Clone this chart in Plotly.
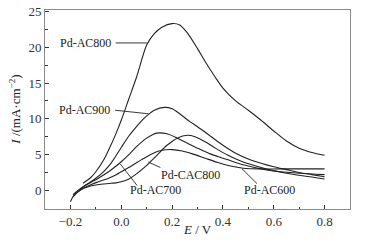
import plotly.graph_objects as go

# ---- data ----
E_ac800 = [-0.15, -0.12, -0.1, -0.07, -0.05, -0.02, 0.0, 0.03, 0.06, 0.1, 0.13, 0.16, 0.2, 0.23, 0.26,
           0.3, 0.33, 0.37, 0.4, 0.45, 0.5, 0.55, 0.6, 0.65, 0.7, 0.75, 0.8]
I_ac800 = [1.0, 1.8, 2.6, 4.2, 5.6, 8.0, 9.8, 12.8, 15.8, 20.3, 21.9, 22.8, 23.3, 23.1, 22.0,
           19.8, 18.0, 15.8, 14.3, 12.5, 11.2, 9.8, 8.3, 6.9, 5.9, 5.3, 4.9]

E_ac900 = [-0.17, -0.15, -0.12, -0.1, -0.07, -0.04, 0.0, 0.03, 0.06, 0.08, 0.1, 0.13, 0.17, 0.2, 0.23,
           0.27, 0.3, 0.35, 0.4, 0.45, 0.5, 0.55, 0.6, 0.65, 0.7, 0.75, 0.8]
I_ac900 = [-0.2, 0.5, 1.2, 1.7, 2.6, 3.8, 6.0, 7.6, 8.9, 9.7, 10.4, 11.2, 11.6, 11.4, 10.7,
           9.6, 8.9, 7.6, 6.3, 5.2, 4.4, 3.8, 3.3, 2.9, 2.5, 2.2, 1.9]

E_ac700 = [-0.19, -0.17, -0.15, -0.12, -0.09, -0.05, -0.02, 0.0, 0.03, 0.06, 0.1, 0.14, 0.18, 0.22,
           0.26, 0.3, 0.35, 0.4, 0.45, 0.5, 0.55, 0.6, 0.7, 0.8]
I_ac700 = [-0.6, 0.0, 0.5, 1.1, 1.7, 2.6, 3.4, 4.0, 5.0, 6.1, 7.3, 8.0, 7.9, 7.3,
           6.6, 5.9, 5.1, 4.5, 3.9, 3.4, 3.0, 2.7, 2.4, 2.2]

E_cac800 = [-0.2, -0.19, -0.18, -0.16, -0.13, -0.1, -0.07, -0.04, -0.02, 0.0, 0.03, 0.06, 0.1, 0.14,
            0.18, 0.22, 0.26, 0.29, 0.33, 0.37, 0.42, 0.47, 0.52, 0.58, 0.65, 0.72, 0.8]
I_cac800 = [-1.6, -0.9, -0.4, 0.1, 0.5, 0.75, 0.9, 1.0, 1.05, 1.2, 1.6, 2.3, 3.5, 4.9,
            6.3, 7.3, 7.7, 7.5, 6.8, 5.9, 4.9, 4.1, 3.5, 2.9, 2.4, 2.0, 1.6]

E_ac600 = [-0.19, -0.17, -0.15, -0.12, -0.09, -0.05, -0.02, 0.0, 0.04, 0.08, 0.12, 0.16, 0.2, 0.24,
           0.28, 0.33, 0.38, 0.43, 0.48, 0.55, 0.62, 0.7, 0.8]
I_ac600 = [-0.9, -0.2, 0.3, 0.8, 1.2, 1.7, 2.2, 2.6, 3.4, 4.3, 5.1, 5.6, 5.7, 5.5,
           5.1, 4.5, 3.9, 3.4, 3.1, 3.0, 3.0, 3.0, 3.0]

x_ticks = [-0.2, 0.0, 0.2, 0.4, 0.6, 0.8]
y_ticks = [0, 5, 10, 15, 20, 25]

series = [
    ("Pd-AC800", E_ac800, I_ac800),
    ("Pd-AC900", E_ac900, I_ac900),
    ("Pd-AC700", E_ac700, I_ac700),
    ("Pd-CAC800", E_cac800, I_cac800),
    ("Pd-AC600", E_ac600, I_ac600),
]

# label text position, pointer start, pointer end (data coords), anchor
labels = [
    ("Pd-AC800", (-0.031, 20.6), (-0.022, 20.6), (0.103, 20.6), "right"),
    ("Pd-AC900", (-0.037, 11.2), (-0.024, 11.2), (0.107, 10.7), "right"),
    ("Pd-AC700", (0.028, 0.1), (0.062, 0.7), (-0.004, 3.7), "left"),
    ("Pd-CAC800", (0.147, 2.2), (0.154, 3.2), (0.107, 3.95), "left"),
    ("Pd-AC600", (0.475, 0.1), (0.534, 0.95), (0.475, 3.03), "left"),
]

FONT = "Liberation Serif, Times New Roman, Times, serif"
fig = go.Figure()
for name, xs, ys in series:
    fig.add_trace(go.Scatter(x=xs, y=ys, mode="lines", name=name,
                             line=dict(color="#222222", width=1.1, shape="spline", smoothing=0.8),
                             showlegend=False, hoverinfo="skip"))

for text, tpos, p0, p1, anchor in labels:
    fig.add_annotation(x=tpos[0], y=tpos[1], xref="x", yref="y", text=text, showarrow=False,
                       xanchor=anchor, yanchor="middle",
                       font=dict(family=FONT, size=12, color="#222222"))
    fig.add_shape(type="line", xref="x", yref="y", x0=p0[0], y0=p0[1], x1=p1[0], y1=p1[1],
                  line=dict(color="#222222", width=0.9))

fig.add_annotation(x=0.5, y=-0.105, xref="paper", yref="paper", text="<i>E</i> / V",
                   showarrow=False, xanchor="center", yanchor="middle",
                   font=dict(family=FONT, size=13, color="#222222"))
fig.add_annotation(x=-0.101, y=0.5, xref="paper", yref="paper",
                   text="<i>I</i> /(mA·cm<sup>−2</sup>)", textangle=-90,
                   showarrow=False, xanchor="center", yanchor="middle",
                   font=dict(family=FONT, size=13, color="#222222"))

axis_common = dict(showgrid=False, zeroline=False, showline=True, mirror=True,
                   linecolor="#8a8a8a", linewidth=1, ticks="inside", ticklen=4,
                   tickcolor="#333333", tickwidth=1,
                   tickfont=dict(family=FONT, size=13, color="#333333"))

fig.update_xaxes(range=[-0.3, 0.9], tickvals=x_ticks,
                 ticktext=[("−" if v < 0 else "") + f"{abs(v):.1f}" for v in x_ticks],
                 minor=dict(dtick=0.1, ticks="inside", ticklen=2.5, tickcolor="#333333"),
                 **axis_common)
fig.update_yaxes(range=[-2.6, 25.2], tickvals=y_ticks, ticktext=[str(v) for v in y_ticks],
                 minor=dict(dtick=2.5, ticks="inside", ticklen=2.5, tickcolor="#333333"),
                 **axis_common)

fig.update_layout(width=375, height=240,
                  margin=dict(l=45, r=25, t=10, b=31, autoexpand=False),
                  paper_bgcolor="white", plot_bgcolor="white")

fig.write_html("out.html", config={"displayModeBar": False},
               post_script="document.body.style.margin='0';document.body.style.padding='0';"
                           "document.body.style.overflow='hidden';")
